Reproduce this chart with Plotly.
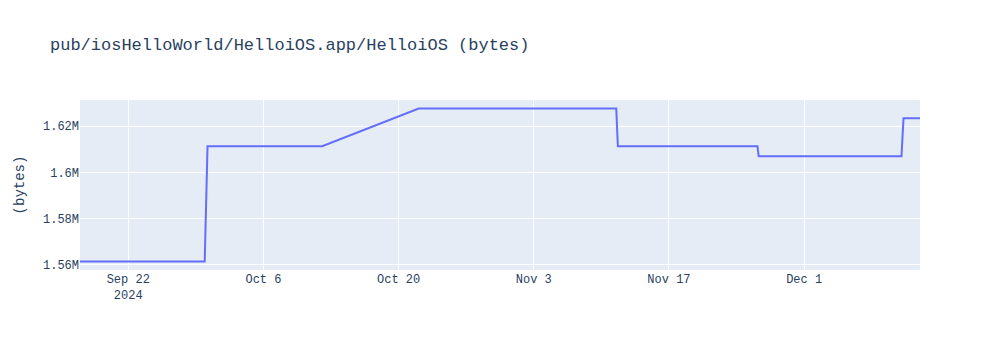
import plotly.graph_objects as go

dates = [
    "2024-09-17 00:00",
    "2024-09-29 22:00",
    "2024-09-30 05:00",
    "2024-10-12 02:00",
    "2024-10-22 02:00",
    "2024-11-11 13:00",
    "2024-11-11 17:00",
    "2024-11-26 04:00",
    "2024-11-26 07:00",
    "2024-12-11 02:00",
    "2024-12-11 07:00",
    "2024-12-13 00:00",
]
sizes = [
    1561300,
    1561300,
    1611300,
    1611300,
    1627700,
    1627700,
    1611300,
    1611300,
    1607000,
    1607000,
    1623500,
    1623500,
]

title_text = "pub/iosHelloWorld/HelloiOS.app/HelloiOS (bytes)"
y_title = "(bytes)"

fig = go.Figure(go.Scatter(x=dates, y=sizes, mode="lines"))
fig.update_layout(
    template="plotly",
    width=1000,
    height=350,
    title=dict(text=title_text),
    font=dict(family="Liberation Mono, Courier New, monospace"),
    yaxis=dict(title=dict(text=y_title)),
    showlegend=False,
)
fig.write_html("out.html")
